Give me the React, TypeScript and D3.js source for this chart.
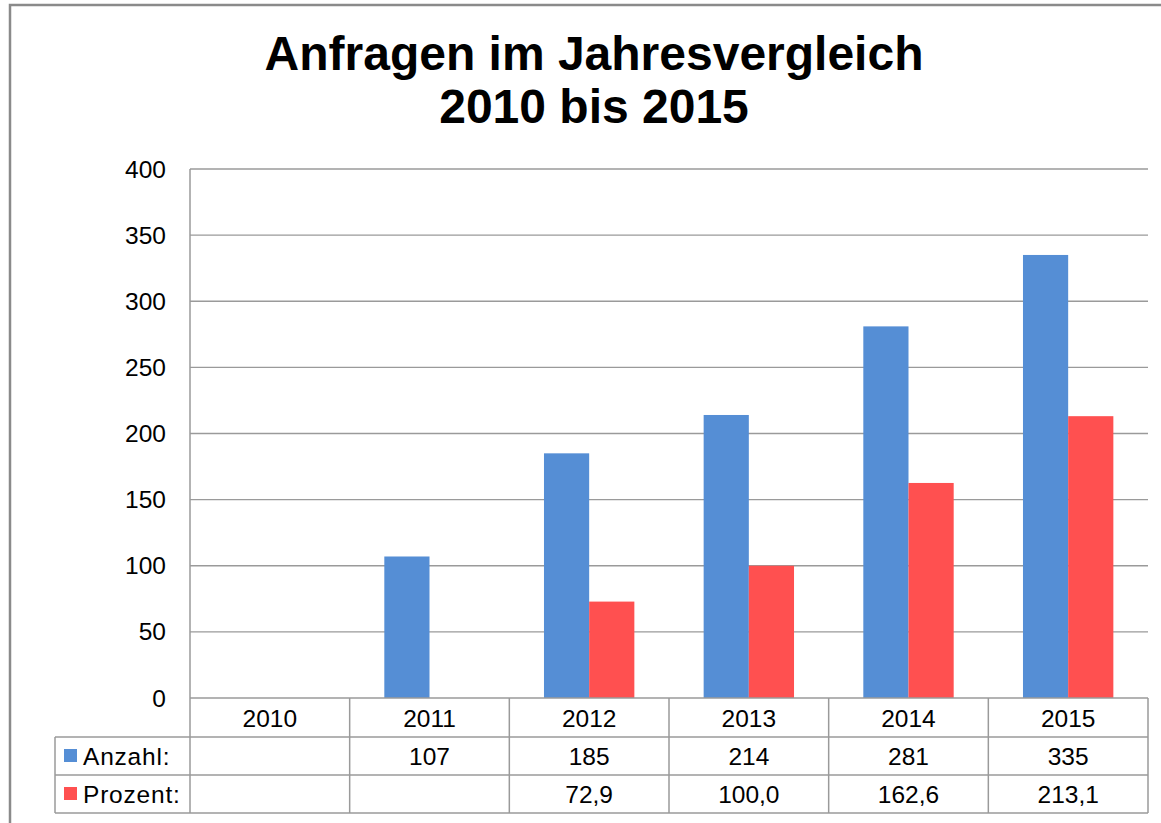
import React from "react";
import * as d3 from "d3";

const years = ["2010", "2011", "2012", "2013", "2014", "2015"];
const anzahl: (number | null)[] = [null, 107, 185, 214, 281, 335];
const prozent: (number | null)[] = [null, null, 72.9, 100.0, 162.6, 213.1];
const yTicks = [0, 50, 100, 150, 200, 250, 300, 350, 400];
const seriesNames = ["Anzahl:", "Prozent:"];
const colors = ["#558ed5", "#ff5050"];

const W = 1161, H = 823;
const left = 190, right = 1148, top = 169, bottom = 698;
const tableLeft = 55;
const rowH = 38;

const fmt = (v: number | null, dec: number) =>
  v == null ? "" : dec === 0 ? String(v) : v.toFixed(dec).replace(".", ",");

export default function App() {
  const x = d3.scaleBand<string>().domain(years).range([left, right]).paddingInner(0).paddingOuter(0);
  const y = d3.scaleLinear().domain([0, 400]).range([bottom, top]);
  const bw = x.bandwidth();
  const barW = bw * 0.283;
  const gap = (bw - 2 * barW) / 2;
  const font = "'Liberation Sans', Arial, sans-serif";
  const series = [anzahl, prozent];
  const decs = [0, 1];
  const gridColor = "#9a9a9a";
  const tableColor = "#9a9a9a";
  const rows = [bottom + rowH + 1, bottom + 2 * rowH + 1, bottom + 3 * rowH + 1];

  return (
    <svg width={W} height={H} style={{ position: "absolute", left: 0, top: 0, background: "#fff" }} fontFamily={font}>
      <rect x={10} y={5} width={1170} height={840} fill="#fff" stroke="#8a8a8a" strokeWidth={2.5} />
      <text x={594} y={70} textAnchor="middle" fontSize={48} fontWeight="bold">Anfragen im Jahresvergleich</text>
      <text x={594} y={123} textAnchor="middle" fontSize={48} fontWeight="bold">2010 bis 2015</text>

      {yTicks.map((t) => (
        <g key={t}>
          {t > 0 && <line x1={left} x2={right} y1={y(t)} y2={y(t)} stroke={gridColor} strokeWidth={1.3} />}
          <text x={166} y={y(t) + 8.5} textAnchor="end" fontSize={24.5}>{t}</text>
        </g>
      ))}

      {series.map((s, si) =>
        s.map((v, i) =>
          v == null ? null : (
            <rect key={si + "-" + i} x={(x(years[i]) as number) + gap + si * barW} y={y(v)} width={barW} height={bottom - y(v)} fill={colors[si]} />
          )
        )
      )}

      <line x1={left} x2={left} y1={top} y2={rows[2]} stroke={tableColor} strokeWidth={1.5} />
      <line x1={left} x2={right} y1={bottom} y2={bottom} stroke={tableColor} strokeWidth={1.5} />
      {rows.map((ry) => (
        <line key={ry} x1={tableLeft} x2={right} y1={ry} y2={ry} stroke={tableColor} strokeWidth={1.5} />
      ))}
      <line x1={tableLeft} x2={tableLeft} y1={rows[0]} y2={rows[2]} stroke={tableColor} strokeWidth={1.5} />
      {years.map((yr) => (
        <line key={yr} x1={(x(yr) as number) + bw} x2={(x(yr) as number) + bw} y1={bottom} y2={rows[2]} stroke={tableColor} strokeWidth={1.5} />
      ))}

      {years.map((yr) => (
        <text key={yr} x={(x(yr) as number) + bw / 2} y={bottom + 29} textAnchor="middle" fontSize={24.5}>{yr}</text>
      ))}
      {series.map((s, si) => (
        <g key={si}>
          <rect x={64} y={rows[si] + 12} width={13} height={13} fill={colors[si]} />
          <text x={83} y={rows[si] + 28} fontSize={24.5} letterSpacing={0.8}>{seriesNames[si]}</text>
          {s.map((v, i) => (
            <text key={i} x={(x(years[i]) as number) + bw / 2} y={rows[si] + 28} textAnchor="middle" fontSize={24.5}>{fmt(v, decs[si])}</text>
          ))}
        </g>
      ))}
    </svg>
  );
}
